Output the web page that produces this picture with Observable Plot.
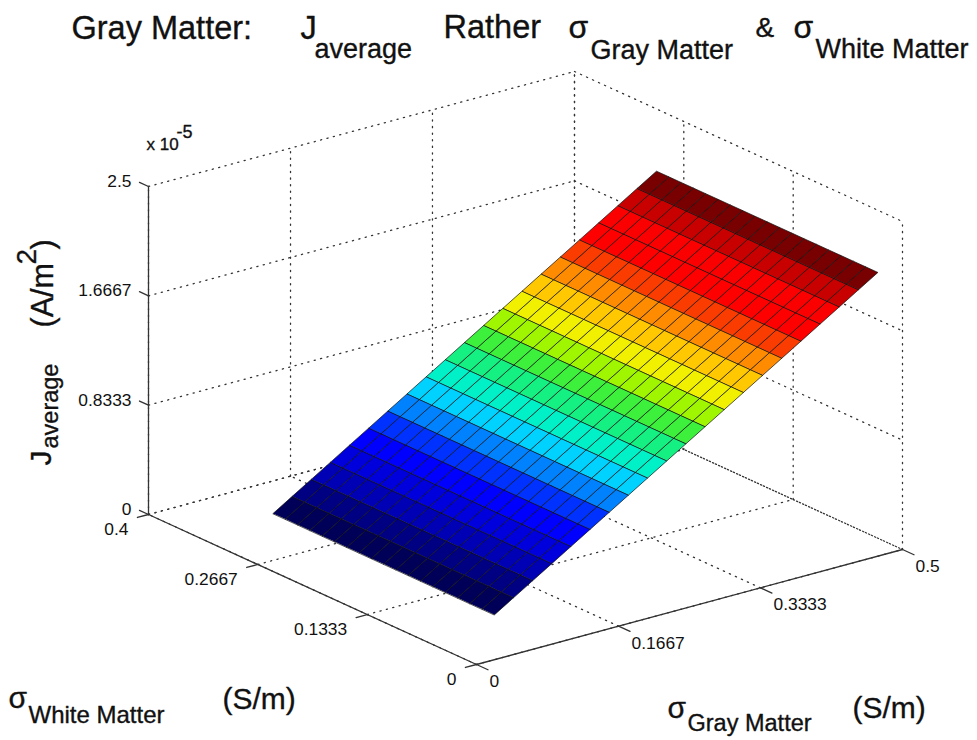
<!DOCTYPE html>
<html>
<head>
<meta charset="utf-8">
<script src="https://cdn.jsdelivr.net/npm/d3@7"></script>
<script src="https://cdn.jsdelivr.net/npm/@observablehq/plot@0.6"></script>
<style>
html,body{margin:0;padding:0;background:#fff}
svg{display:block;background:#fff}
</style>
</head>
<body>
<div id="chart"></div>
<script>
// Surface samples (J in units of 1e-5 A/m^2)
const sigmaGray = [0.05,0.0725,0.095,0.1175,0.14,0.1625,0.185,0.2075,0.23,0.2525,0.275,0.2975,0.32,0.3425,0.365,0.3875,0.41,0.4325,0.455,0.4775,0.5];
const sigmaWhite = [0.03,0.045,0.06,0.075,0.09,0.105,0.12,0.135,0.15,0.165,0.18,0.195,0.21,0.225,0.24,0.255,0.27,0.285,0.3];
const jAverage = [0.206,0.297,0.388,0.479,0.57,0.661,0.752,0.843,0.934,1.025,1.116,1.207,1.298,1.389,1.48,1.571,1.662,1.753,1.844,1.935,2.026];

// Axis ticks
const grayTicks = [0,0.1667,0.3333,0.5];
const whiteTicks = [0,0.1333,0.2667,0.4];
const jTicks = [0,0.8333,1.6667,2.5];

// Colours of the bands, low J to high J
const bandColors = ["#000058","#000082","#0000b4","#0000dc","#0000ff","#0032ff","#0082ff","#00d2ff","#00f0c8","#14f082","#3cf03c","#a0f500","#f0f000","#ffc800","#ff8c00","#fa3c00","#ff0000","#fa0000","#c80000","#780000"];

// Orthographic view: pixel offset of the box origin and of one unit along each data axis
const origin = [476, 664];
const perGray = [852, -230];
const perWhite = [-820, -375];
const perJ = [0, -131.2];
const gMax = 0.5, wMax = 0.4, jMax = 2.5;
const px = (g, w, j) => origin[0] + g * perGray[0] + w * perWhite[0] + j * perJ[0];
const py = (g, w, j) => origin[1] + g * perGray[1] + w * perWhite[1] + j * perJ[1];

// Surface facets as closed rings of data vertices
const facets = [];
for (let i = 0; i < sigmaGray.length - 1; i++) {
  for (let k = 0; k < sigmaWhite.length - 1; k++) {
    const id = i * 100 + k;
    for (const [a, b] of [[i, k], [i + 1, k], [i + 1, k + 1], [i, k + 1]]) {
      facets.push({id, band: jAverage[i], g: sigmaGray[a], w: sigmaWhite[b], j: jAverage[a]});
    }
  }
}

// Segments helper: each segment has two ends in data coordinates
function segments(list) {
  const out = [];
  list.forEach(([a, b], n) => {
    out.push({id: n, g: a[0], w: a[1], j: a[2]});
    out.push({id: n, g: b[0], w: b[1], j: b[2]});
  });
  return out;
}

// Dotted grid on the floor and the two back walls
const gridSegs = [];
for (const g of grayTicks) {
  gridSegs.push([[g, 0, 0], [g, wMax, 0]]);
  gridSegs.push([[g, wMax, 0], [g, wMax, jMax]]);
}
for (const w of whiteTicks) {
  gridSegs.push([[0, w, 0], [gMax, w, 0]]);
  gridSegs.push([[gMax, w, 0], [gMax, w, jMax]]);
}
for (const j of jTicks) {
  gridSegs.push([[0, wMax, j], [gMax, wMax, j]]);
  gridSegs.push([[gMax, wMax, j], [gMax, 0, j]]);
}

// Solid axes with their tick stubs
const axisSegs = [
  [[0, 0, 0], [gMax, 0, 0]],
  [[0, 0, 0], [0, wMax, 0]],
  [[0, wMax, 0], [0, wMax, jMax]]
];
for (const g of grayTicks) axisSegs.push([[g, 0, 0], [g, -0.014, 0]]);
for (const w of whiteTicks) axisSegs.push([[0, w, 0], [-0.013, w, 0]]);
for (const j of jTicks) axisSegs.push([[0, wMax, j], [0, wMax + 0.011, j]]);

const grayLabels = grayTicks.map(g => ({g, w: 0, j: 0, text: String(g)}));
const whiteLabels = whiteTicks.map(w => ({g: 0, w, j: 0, text: String(w)}));
const jLabels = jTicks.map(j => ({g: 0, w: wMax, j, text: String(j)}));

// Titles and axis captions are placed in the frame, in pixels
const captions = [
  {t: "Gray Matter:", x: 71, y: 38, s: 32.5},
  {t: "J", x: 300, y: 38, s: 32.5},
  {t: "average", x: 314, y: 57, s: 27},
  {t: "Rather", x: 443, y: 37, s: 32.5},
  {t: "σ", x: 568, y: 37, s: 32},
  {t: "Gray Matter", x: 590, y: 58, s: 27},
  {t: "&", x: 755, y: 36, s: 28},
  {t: "σ", x: 793, y: 37, s: 32},
  {t: "White Matter", x: 815, y: 57, s: 27},
  {t: "x 10", x: 146, y: 149, s: 17},
  {t: "-5", x: 176, y: 137, s: 18},
  {t: "σ", x: 8, y: 707, s: 30},
  {t: "White Matter", x: 28, y: 722, s: 24},
  {t: "(S/m)", x: 222, y: 708, s: 30},
  {t: "σ", x: 667, y: 717, s: 30},
  {t: "Gray Matter", x: 687, y: 730, s: 23.5},
  {t: "(S/m)", x: 852, y: 717, s: 30},
  {t: "J", x: 50, y: 465, s: 30, r: -90},
  {t: "average", x: 57, y: 448, s: 23.5, r: -90},
  {t: "(A/m", x: 52, y: 327, s: 30.5, r: -90},
  {t: "2", x: 35, y: 264, s: 28, r: -90},
  {t: ")", x: 52, y: 249, s: 30.5, r: -90}
];

const X = d => px(d.g, d.w, d.j);
const Y = d => py(d.g, d.w, d.j);
const font = "Liberation Sans, Arial, sans-serif";

const chart = Plot.plot({
  width: 977,
  height: 740,
  margin: 0,
  style: {background: "#fff", fontFamily: font},
  x: {domain: [0, 977], range: [0, 977], axis: null},
  y: {domain: [0, 740], range: [0, 740], axis: null},
  color: {type: "ordinal", domain: jAverage.slice(0, 20), range: bandColors},
  marks: [
    Plot.line(segments(gridSegs), {x: X, y: Y, z: "id", stroke: "#333", strokeWidth: 1.3, strokeDasharray: "1.2 5.4"}),
    Plot.line(segments(axisSegs), {x: X, y: Y, z: "id", stroke: "#333", strokeWidth: 1.3}),
    Plot.line(facets, {x: X, y: Y, z: "id", curve: "linear-closed", fill: "band", stroke: "#111", strokeWidth: 1, strokeOpacity: 0.7}),
    Plot.text(jLabels, {x: X, y: Y, text: "text", dx: -17, dy: -5, textAnchor: "end", fontSize: 17.4, fill: "#111"}),
    Plot.text(whiteLabels, {x: X, y: Y, text: "text", dx: -20, dy: 15, textAnchor: "end", fontSize: 17.4, fill: "#111"}),
    Plot.text(grayLabels, {x: X, y: Y, text: "text", dx: 13, dy: 17, textAnchor: "start", fontSize: 17.4, fill: "#111"}),
    Plot.text(captions, {x: "x", y: "y", text: "t", fontSize: "s", rotate: d => d.r || 0, textAnchor: "start", lineAnchor: "bottom", fill: "#111", stroke: "#111", strokeWidth: 0.35})
  ]
});
document.getElementById("chart").appendChild(chart);
</script>
</body>
</html>
